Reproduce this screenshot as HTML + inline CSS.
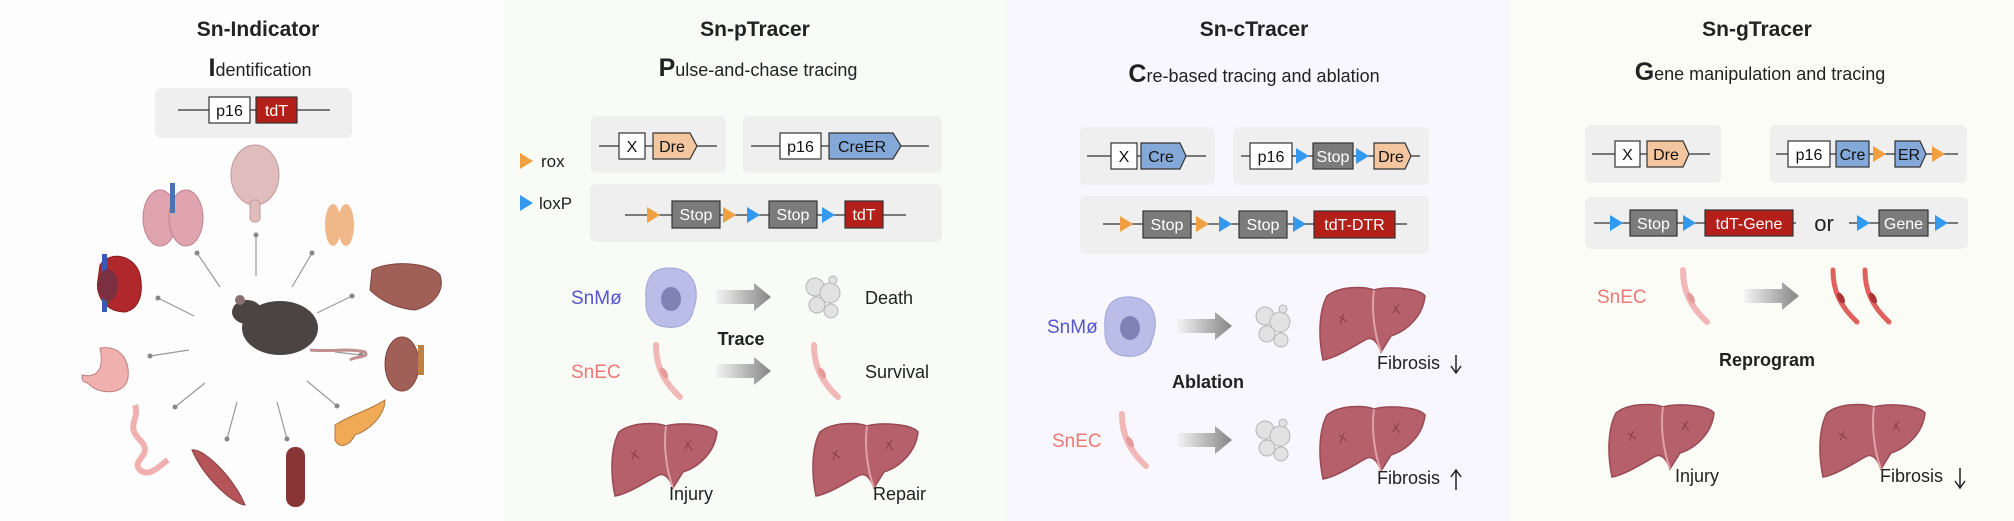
<!DOCTYPE html>
<html><head><meta charset="utf-8"><style>
html,body{margin:0;padding:0;background:#fff}
svg{display:block}
text{font-family:"Liberation Sans",sans-serif}
</style></head><body>
<svg width="2014" height="521" viewBox="0 0 2014 521" xmlns="http://www.w3.org/2000/svg">
<defs>
<linearGradient id="ag" x1="0" x2="1"><stop offset="0" stop-color="#f4f4f4"/><stop offset="1" stop-color="#858585"/></linearGradient>
<g id="liver">
<path d="M8,10 C20,0 45,0 55,4 C70,0 100,2 106,10 C104,30 88,45 72,50 L62,66 C58,54 52,50 46,54 C32,62 16,72 4,74 C-1,50 0,25 8,10Z" fill="#b5606a" stroke="#9a4a55" stroke-width="1.5"/>
<path d="M55,4 C52,25 56,50 62,66" fill="none" stroke="#e0a0a8" stroke-width="2"/>
<path d="M20,30 l8,6 M25,28 l-4,10 M75,20 l6,8 M80,18 l-6,9" stroke="#8a3a45" stroke-width="1"/>
</g>
<g id="mac">
<path d="M-18,-24 C-8,-32 10,-30 18,-22 C28,-12 26,4 22,14 C20,26 8,32 -4,30 C-18,30 -26,18 -25,4 C-26,-8 -24,-18 -18,-24Z" fill="#b9bde8" stroke="#a0a4d8"/>
<ellipse cx="0" cy="2" rx="10" ry="12" fill="#7e82b5"/>
</g>
<g id="dead">
<circle cx="-8" cy="-10" r="9" fill="#e2e2e2" stroke="#b5b5b5"/>
<circle cx="7" cy="-4" r="10" fill="#e2e2e2" stroke="#b5b5b5"/>
<circle cx="-6" cy="8" r="8" fill="#e2e2e2" stroke="#b5b5b5"/>
<circle cx="8" cy="14" r="7" fill="#e2e2e2" stroke="#b5b5b5"/>
<circle cx="10" cy="-17" r="4" fill="#e2e2e2" stroke="#b5b5b5"/>
</g>
<g id="ec">
<path d="M-12,-26 C-12,-5 -5,10 12,26" fill="none" stroke="#f2b7b7" stroke-width="6" stroke-linecap="round"/>
<ellipse cx="-4" cy="2" rx="3" ry="6" fill="#e79a9a" transform="rotate(-30 -4 2)"/>
</g>
<g id="ecr">
<path d="M-12,-26 C-12,-5 -5,10 12,26" fill="none" stroke="#e06060" stroke-width="5" stroke-linecap="round"/>
<ellipse cx="-4" cy="2" rx="3" ry="6" fill="#a83535" transform="rotate(-30 -4 2)"/>
</g>
<g id="arr"><path d="M0,-7 L38,-7 L38,-14 L55,0 L38,14 L38,7 L0,7Z" fill="url(#ag)"/></g>
<path id="to" d="M0,-8 L13,0 L0,8Z" fill="#f0a040"/>
<path id="tb" d="M0,-8 L13,0 L0,8Z" fill="#3399ee"/>
</defs>

<!-- panel backgrounds -->
<rect x="0" y="0" width="504" height="521" fill="#fdfdfd"/>
<rect x="504" y="0" width="1006" height="521" fill="#f8fbf6"/>
<rect x="1007" y="0" width="503" height="521" fill="#f7f7fd"/>
<rect x="1510" y="0" width="504" height="521" fill="#fcfcf7"/>

<g text-anchor="middle" font-weight="bold" font-size="21" fill="#222">
<text x="258" y="36">Sn-Indicator</text>
<text x="755" y="36">Sn-pTracer</text>
<text x="1254" y="36">Sn-cTracer</text>
<text x="1757" y="36">Sn-gTracer</text>
</g>
<g text-anchor="middle" font-size="18" fill="#222">
<text x="260" y="76"><tspan font-size="25" font-weight="bold">I</tspan>dentification</text>
<text x="758" y="76"><tspan font-size="25" font-weight="bold">P</tspan>ulse-and-chase tracing</text>
<text x="1254" y="82"><tspan font-size="25" font-weight="bold">C</tspan>re-based tracing and ablation</text>
<text x="1760" y="80"><tspan font-size="25" font-weight="bold">G</tspan>ene manipulation and tracing</text>
</g>

<!-- construct boxes -->
<g fill="#efefef">
<rect x="155" y="88" width="197" height="50" rx="6"/>
<rect x="591" y="116" width="135" height="57" rx="6"/>
<rect x="743" y="116" width="199" height="57" rx="6"/>
<rect x="590" y="184" width="352" height="58" rx="6"/>
<rect x="1080" y="127" width="135" height="58" rx="6"/>
<rect x="1233" y="127" width="196" height="58" rx="6"/>
<rect x="1080" y="196" width="349" height="58" rx="6"/>
<rect x="1585" y="125" width="136" height="58" rx="6"/>
<rect x="1770" y="125" width="197" height="58" rx="6"/>
<rect x="1585" y="197" width="383" height="52" rx="6"/>
</g>

<g stroke="#333" stroke-width="1.2">
<line x1="178" y1="110" x2="330" y2="110"/>
<line x1="599" y1="146" x2="717" y2="146"/>
<line x1="751" y1="146" x2="929" y2="146"/>
<line x1="625" y1="215" x2="906" y2="215"/>
<line x1="1087" y1="156" x2="1206" y2="156"/>
<line x1="1241" y1="156" x2="1420" y2="156"/>
<line x1="1103" y1="224" x2="1407" y2="224"/>
<line x1="1592" y1="154" x2="1710" y2="154"/>
<line x1="1776" y1="154" x2="1958" y2="154"/>
<line x1="1594" y1="223" x2="1796" y2="223"/>
<line x1="1849" y1="223" x2="1958" y2="223"/>
</g>

<g stroke="#333" stroke-width="1.2" font-size="16" text-anchor="middle">
<!-- p1 -->
<rect x="209" y="97" width="41" height="26" fill="#fff"/><text x="229.5" y="116" stroke="none" fill="#111">p16</text>
<rect x="256" y="97" width="41" height="26" fill="#b32019"/><text x="276.5" y="116" stroke="none" fill="#fff">tdT</text>
<!-- p2 -->
<rect x="619" y="133" width="26" height="26" fill="#fff"/><text x="632" y="152" stroke="none" fill="#111">X</text>
<path d="M653,133 H690 L697,146 L690,159 H653Z" fill="#f4c6a0"/><text x="672" y="152" stroke="none" fill="#111">Dre</text>
<rect x="780" y="133" width="41" height="26" fill="#fff"/><text x="800.5" y="152" stroke="none" fill="#111">p16</text>
<path d="M829,133 H893 L901,146 L893,159 H829Z" fill="#84a9d8"/><text x="862" y="152" stroke="none" fill="#111">CreER</text>
<rect x="672" y="201" width="48" height="27" fill="#7b7b7b"/><text x="696" y="220" stroke="none" fill="#fff">Stop</text>
<rect x="769" y="201" width="48" height="27" fill="#7b7b7b"/><text x="793" y="220" stroke="none" fill="#fff">Stop</text>
<rect x="845" y="201" width="38" height="27" fill="#b32019"/><text x="864" y="220" stroke="none" fill="#fff">tdT</text>
<!-- p3 -->
<rect x="1111" y="143" width="26" height="26" fill="#fff"/><text x="1124" y="162" stroke="none" fill="#111">X</text>
<path d="M1141,143 H1180 L1186,156 L1180,169 H1141Z" fill="#84a9d8"/><text x="1161" y="162" stroke="none" fill="#111">Cre</text>
<rect x="1250" y="143" width="42" height="26" fill="#fff"/><text x="1271" y="162" stroke="none" fill="#111">p16</text>
<rect x="1313" y="143" width="40" height="26" fill="#7b7b7b"/><text x="1333" y="162" stroke="none" fill="#fff">Stop</text>
<path d="M1374,143 H1405 L1411,156 L1405,169 H1374Z" fill="#f4c6a0"/><text x="1391" y="162" stroke="none" fill="#111">Dre</text>
<rect x="1143" y="211" width="48" height="27" fill="#7b7b7b"/><text x="1167" y="230" stroke="none" fill="#fff">Stop</text>
<rect x="1239" y="211" width="48" height="27" fill="#7b7b7b"/><text x="1263" y="230" stroke="none" fill="#fff">Stop</text>
<rect x="1314" y="211" width="81" height="27" fill="#b32019"/><text x="1354.5" y="230" stroke="none" fill="#fff">tdT-DTR</text>
<!-- p4 -->
<rect x="1615" y="141" width="25" height="26" fill="#fff"/><text x="1627.5" y="160" stroke="none" fill="#111">X</text>
<path d="M1647,141 H1683 L1689,154 L1683,167 H1647Z" fill="#f4c6a0"/><text x="1666" y="160" stroke="none" fill="#111">Dre</text>
<rect x="1788" y="141" width="42" height="26" fill="#fff"/><text x="1809" y="160" stroke="none" fill="#111">p16</text>
<rect x="1836" y="141" width="33" height="26" fill="#84a9d8"/><text x="1852.5" y="160" stroke="none" fill="#111">Cre</text>
<path d="M1895,141 H1920 L1926,154 L1920,167 H1895Z" fill="#84a9d8"/><text x="1909" y="160" stroke="none" fill="#111">ER</text>
<rect x="1630" y="210" width="47" height="26" fill="#7b7b7b"/><text x="1653.5" y="229" stroke="none" fill="#fff">Stop</text>
<rect x="1705" y="210" width="88" height="26" fill="#b32019"/><text x="1749" y="229" stroke="none" fill="#fff">tdT-Gene</text>
<rect x="1879" y="210" width="49" height="26" fill="#7b7b7b"/><text x="1903.5" y="229" stroke="none" fill="#fff">Gene</text>
</g>
<text x="1824" y="231" font-size="22" text-anchor="middle" fill="#222">or</text>

<!-- loxP/rox triangles -->
<use href="#to" x="647" y="215"/><use href="#to" x="723" y="215"/><use href="#tb" x="747" y="215"/><use href="#tb" x="822" y="215"/>
<use href="#to" x="1120" y="224"/><use href="#to" x="1196" y="224"/><use href="#tb" x="1219" y="224"/><use href="#tb" x="1293" y="224"/>
<use href="#tb" x="1296" y="156"/><use href="#tb" x="1356" y="156"/>
<use href="#to" x="1873" y="154"/><use href="#to" x="1932" y="154"/>
<use href="#tb" x="1610" y="223"/><use href="#tb" x="1683" y="223"/><use href="#tb" x="1857" y="223"/><use href="#tb" x="1935" y="223"/>
<!-- legend -->
<use href="#to" x="520" y="161"/><text x="541" y="167" font-size="17" fill="#222">rox</text>
<use href="#tb" x="520" y="203"/><text x="539" y="209" font-size="17" fill="#222">loxP</text>

<!-- Panel 1 organs -->
<g stroke="#999" stroke-width="1.2">
<line x1="256" y1="235" x2="256" y2="276"/><line x1="197" y1="253" x2="220" y2="287"/>
<line x1="312" y1="253" x2="292" y2="287"/><line x1="158" y1="298" x2="194" y2="316"/>
<line x1="352" y1="296" x2="317" y2="313"/><line x1="150" y1="356" x2="189" y2="350"/>
<line x1="361" y1="355" x2="335" y2="352"/><line x1="175" y1="407" x2="205" y2="383"/>
<line x1="227" y1="439" x2="237" y2="402"/><line x1="287" y1="439" x2="277" y2="402"/>
<line x1="337" y1="406" x2="307" y2="381"/>
</g>
<g fill="#888">
<circle cx="256" cy="235" r="2.5"/><circle cx="197" cy="253" r="2.5"/><circle cx="312" cy="253" r="2.5"/>
<circle cx="158" cy="298" r="2.5"/><circle cx="352" cy="296" r="2.5"/><circle cx="150" cy="356" r="2.5"/>
<circle cx="361" cy="355" r="2.5"/><circle cx="175" cy="407" r="2.5"/><circle cx="227" cy="439" r="2.5"/>
<circle cx="287" cy="439" r="2.5"/><circle cx="337" cy="406" r="2.5"/>
</g>
<!-- brain -->
<ellipse cx="255" cy="175" rx="24" ry="30" fill="#e0bcbc" stroke="#c09a9a"/>
<rect x="250" y="200" width="10" height="22" rx="4" fill="#e0bcbc" stroke="#c09a9a"/>
<!-- lungs -->
<ellipse cx="160" cy="218" rx="17" ry="28" fill="#e0a4ae" stroke="#c08090"/>
<ellipse cx="186" cy="218" rx="17" ry="28" fill="#e0a4ae" stroke="#c08090"/>
<rect x="170" y="183" width="5" height="30" fill="#4a72b0"/>
<!-- thyroid -->
<ellipse cx="333" cy="225" rx="8" ry="21" fill="#f0b888"/><ellipse cx="346" cy="225" rx="8" ry="21" fill="#f0b888"/>
<!-- heart -->
<path d="M100,265 C110,250 135,255 140,275 C145,300 135,310 125,312 C105,312 95,295 98,280Z" fill="#b0282c" stroke="#8a1a1a"/>
<rect x="102" y="254" width="5" height="58" fill="#3a5ab0"/>
<ellipse cx="108" cy="285" rx="10" ry="16" fill="#7a3040"/>
<!-- liver organ -->
<path d="M372,270 C390,260 430,262 440,275 C445,290 435,305 415,310 C395,308 380,300 370,290Z" fill="#a06058" stroke="#80443c"/>
<!-- mouse -->
<ellipse cx="280" cy="328" rx="38" ry="27" fill="#4a4442"/>
<ellipse cx="247" cy="312" rx="15" ry="12" fill="#4a4442"/>
<circle cx="240" cy="300" r="5" fill="#8a7070"/>
<path d="M310,350 C330,352 350,348 365,352 C370,358 355,356 350,360" fill="none" stroke="#c09090" stroke-width="3"/>
<!-- stomach -->
<path d="M100,348 C120,345 130,360 128,378 C125,395 100,395 90,385 C85,380 82,385 82,375 C95,378 105,372 100,348Z" fill="#f0b0ae" stroke="#c08080"/>
<!-- kidney -->
<ellipse cx="402" cy="364" rx="17" ry="27" fill="#a06058" stroke="#80443c"/>
<rect x="418" y="345" width="6" height="30" fill="#c08040"/>
<!-- intestine -->
<path d="M135,405 C140,420 125,425 140,440 C155,455 130,460 140,470 C150,478 160,465 168,460" fill="none" stroke="#f0b0b0" stroke-width="6"/>
<!-- pancreas -->
<path d="M335,425 C350,415 370,410 385,400 C385,415 370,430 355,435 C350,445 340,450 335,440Z" fill="#f0aa55" stroke="#b07840"/>
<!-- muscle -->
<path d="M192,450 C205,448 235,480 245,505 C235,505 205,480 192,450Z" fill="#b5555a" stroke="#8a3a40"/>
<!-- spleen -->
<rect x="286" y="447" width="19" height="60" rx="9" fill="#8a3535"/>

<!-- Panel 2 bottom -->
<text x="571" y="304" font-size="19" fill="#5555cc">SnMø</text>
<use href="#mac" x="671" y="297"/>
<use href="#arr" x="716" y="297"/>
<use href="#dead" x="823" y="297"/>
<text x="865" y="304" font-size="18" fill="#222">Death</text>
<text x="741" y="345" font-size="18" font-weight="bold" text-anchor="middle" fill="#222">Trace</text>
<text x="571" y="378" font-size="19" fill="#ee7777">SnEC</text>
<use href="#ec" x="668" y="371"/>
<use href="#arr" x="716" y="371"/>
<use href="#ec" x="826" y="371"/>
<text x="865" y="378" font-size="18" fill="#222">Survival</text>
<use href="#liver" x="611" y="422"/>
<use href="#liver" x="812" y="422"/>
<text x="669" y="500" font-size="18" fill="#222">Injury</text>
<text x="873" y="500" font-size="18" fill="#222">Repair</text>

<!-- Panel 3 bottom -->
<text x="1047" y="333" font-size="19" fill="#5555cc">SnMø</text>
<use href="#mac" x="1130" y="326"/>
<use href="#arr" x="1177" y="326"/>
<use href="#dead" x="1273" y="326"/>
<use href="#liver" transform="translate(1319,286) scale(1,1.0)"/>
<text x="1377" y="369" font-size="18" fill="#222">Fibrosis</text>
<path d="M1456,355 V372 M1451,366 L1456,373 L1461,366" stroke="#222" stroke-width="1.5" fill="none"/>
<text x="1208" y="388" font-size="18" font-weight="bold" text-anchor="middle" fill="#222">Ablation</text>
<text x="1052" y="447" font-size="19" fill="#ee7777">SnEC</text>
<use href="#ec" x="1134" y="440"/>
<use href="#arr" x="1177" y="440"/>
<use href="#dead" x="1273" y="440"/>
<use href="#liver" x="1319" y="405"/>
<text x="1377" y="484" font-size="18" fill="#222">Fibrosis</text>
<path d="M1456,490 V470 M1451,477 L1456,470 L1461,477" stroke="#222" stroke-width="1.5" fill="none"/>

<!-- Panel 4 bottom -->
<text x="1597" y="303" font-size="19" fill="#ee7777">SnEC</text>
<use href="#ec" x="1695" y="296"/>
<use href="#arr" x="1744" y="296"/>
<use href="#ecr" x="1845" y="296"/>
<use href="#ecr" x="1877" y="296"/>
<text x="1767" y="366" font-size="18" font-weight="bold" text-anchor="middle" fill="#222">Reprogram</text>
<use href="#liver" x="1608" y="403"/>
<use href="#liver" x="1819" y="403"/>
<text x="1675" y="482" font-size="18" fill="#222">Injury</text>
<text x="1880" y="482" font-size="18" fill="#222">Fibrosis</text>
<path d="M1960,468 V488 M1955,481 L1960,488 L1965,481" stroke="#222" stroke-width="1.5" fill="none"/>
</svg>
</body></html>
